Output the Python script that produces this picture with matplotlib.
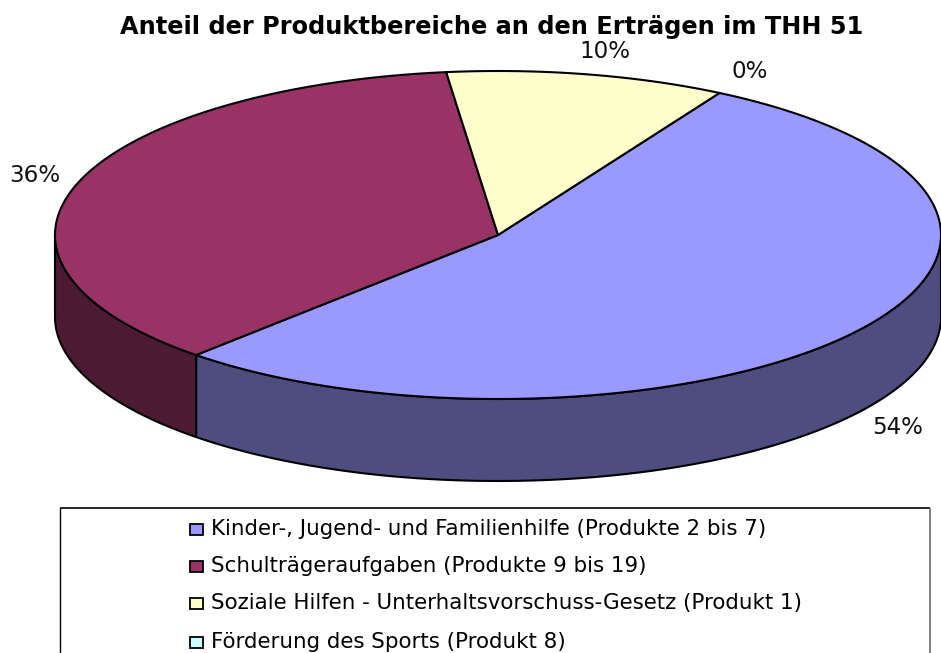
import numpy as np
import matplotlib
matplotlib.use("Agg")
import matplotlib.pyplot as plt
from matplotlib.patches import Polygon, Rectangle

plt.rcParams['font.family'] = ['DejaVu Sans']

title = "Anteil der Produktbereiche an den Erträgen im THH 51"
categories = ["Kinder-, Jugend- und Familienhilfe (Produkte 2 bis 7)",
              "Schulträgeraufgaben (Produkte 9 bis 19)",
              "Soziale Hilfen - Unterhaltsvorschuss-Gesetz (Produkt 1)",
              "Förderung des Sports (Produkt 8)"]
values = [53.6, 36.2, 10.2, 0.0]
top_colors = ["#9999FF", "#993366", "#FFFFCC", "#CCFFFF"]
side_colors = ["#4D4D80", "#4D1A33", "#808066", "#668080"]
pct_labels = ["54%", "36%", "10%", "0%"]
label_pos = [(898, 427), (35, 176), (605, 52), (750, 72)]

W, H = 941, 653
fig = plt.figure(figsize=(W / 100, H / 100), dpi=100, facecolor='white')
ax = fig.add_axes([0, 0, 1, 1])
ax.set_xlim(0, W)
ax.set_ylim(H, 0)
ax.axis('off')

CX, CY, RX, RY, DEPTH = 498, 235, 443, 164, 82
START = 30.0
LW = 1.5


def pt(a):
    r = np.deg2rad(a)
    return CX + RX * np.sin(r), CY - RY * np.cos(r)


total = sum(values)
edges = START + np.concatenate([[0], np.cumsum(values)]) * 360.0 / total

for i in range(len(values)):
    a0, a1 = max(edges[i], 90), min(edges[i + 1], 270)
    if a1 <= a0:
        continue
    th = np.linspace(a0, a1, 200)
    x, y = pt(th)
    verts = np.vstack([np.c_[x, y], np.c_[x, y + DEPTH][::-1]])
    ax.add_patch(Polygon(verts, closed=True, fc=side_colors[i], ec='black', lw=LW, joinstyle='round', zorder=2))

for i in range(len(values)):
    if values[i] <= 0:
        continue
    th = np.linspace(edges[i], edges[i + 1], 300)
    x, y = pt(th)
    verts = np.vstack([[CX, CY], np.c_[x, y]])
    ax.add_patch(Polygon(verts, closed=True, fc=top_colors[i], ec='black', lw=LW, joinstyle='round', zorder=3))

ax.text(491.5, 27, title, fontsize=17.3, fontweight='bold', ha='center', va='center', color='black')
for lab, (lx, ly) in zip(pct_labels, label_pos):
    ax.text(lx, ly, lab, fontsize=16.6, ha='center', va='center', color='#111111')

# legend frame: black top and left, grey right, running off the bottom of the picture
ax.plot([60, 60], [H + 2, 508], color='black', lw=1, solid_capstyle='butt', zorder=1)
ax.plot([60, 930], [508, 508], color='black', lw=1.2, solid_capstyle='butt', zorder=1)
ax.plot([930, 930], [508, H + 2], color='#777777', lw=1.3, solid_capstyle='butt', zorder=1)
leg_y = [529, 566, 603, 642]
for c, col, ly in zip(categories, top_colors, leg_y):
    ax.add_patch(Rectangle((190, ly - 5), 13, 11, fc=col, ec='black', lw=1.3, zorder=4))
    ax.text(211, ly, c, fontsize=15.4, ha='left', va='center', color='black', zorder=4)

fig.savefig("out.png", dpi=100)
